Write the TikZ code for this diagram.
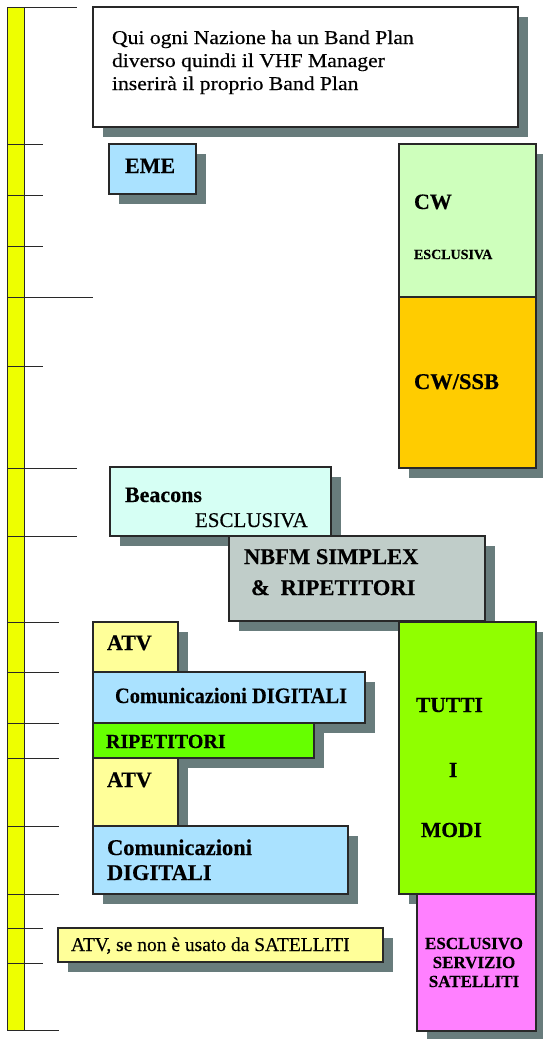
\documentclass[tikz,border=0pt]{standalone}
\usepackage{fontspec}
\setmainfont{Liberation Serif}[FakeBold=0.35]
\usetikzlibrary{shadows}

\definecolor{rulerYellow}{RGB}{238,255,0}
\definecolor{emeBlue}{RGB}{170,226,255}
\definecolor{cwGreen}{RGB}{206,255,188}
\definecolor{ssbOrange}{RGB}{255,204,0}
\definecolor{beaconCyan}{RGB}{214,255,244}
\definecolor{nbfmGray}{RGB}{192,205,201}
\definecolor{atvYellow}{RGB}{255,255,153}
\definecolor{repGreen}{RGB}{102,255,0}
\definecolor{allGreen}{RGB}{144,255,0}
\definecolor{satPink}{RGB}{255,128,255}
\definecolor{shadowGray}{RGB}{104,124,124}
\definecolor{edge}{RGB}{40,40,40}

\tikzset{
  band/.style={draw=edge, line width=1.2pt, inner sep=0pt, outer sep=0pt,
    anchor=north west,
    drop shadow={shadow xshift=10pt, shadow yshift=-10pt, fill=shadowGray, opacity=1}},
  tickline/.style={draw=edge, line width=1pt},
  txt/.style={anchor=base west, inner sep=0pt, outer sep=0pt},
  bold/.style={txt, font=\bfseries\fontsize{#1}{#1}\selectfont},
  plain/.style={txt, font=\fontsize{#1}{#1}\selectfont}
}

% name, left, top, right, bottom, fill
\newcommand\bandbox[6]{%
  \node[band, fill=#6, minimum width={#4-#2}, minimum height={#5-#3}] (#1) at (#2,#3) {};}

\begin{document}
\begin{tikzpicture}[x=1pt, y=-1pt]
\useasboundingbox (0,0) rectangle (543,1039);

% frequency ruler
\node[draw=edge, line width=1pt, fill=rulerYellow, inner sep=0pt, anchor=north west,
      minimum width=17pt, minimum height=1023pt] (ruler) at (7,7) {};
\foreach \yy/\xx in {7/77, 144/43, 195/43, 246/43, 297/93, 366/43, 468/77, 536/77,
                     622/59, 672/59, 723/59, 758/59, 826/59, 894/59, 928/43, 963/43, 1030/59}
  \draw[tickline] (7,\yy) -- (\xx,\yy);

% band segments
\bandbox{note}{93}{7}{518}{127}{white}
\bandbox{eme}{109}{144}{196}{194}{emeBlue}
\bandbox{cw}{399}{144}{536}{297}{cwGreen}
\bandbox{ssb}{399}{297}{536}{468}{ssbOrange}
\bandbox{beacons}{110}{467}{331}{536}{beaconCyan}
\bandbox{nbfm}{229}{536}{485}{621}{nbfmGray}
\bandbox{atvA}{93}{622}{178}{672}{atvYellow}
\bandbox{digA}{93}{672}{365}{723}{emeBlue}
\bandbox{rep}{93}{723}{314}{758}{repGreen}
\bandbox{atvB}{93}{758}{178}{826}{atvYellow}
\bandbox{digB}{93}{826}{348}{894}{emeBlue}
\bandbox{atvsat}{58}{928}{383}{962}{atvYellow}
\bandbox{allmodes}{399}{622}{536}{894}{allGreen}
\bandbox{sat}{417}{894}{536}{1031}{satPink}

% labels
\node[plain=19.5] (noteA) at (112,44) {\scalebox{1.11}[1]{Qui ogni Nazione ha un Band Plan}};
\node[plain=19.5] (noteB) at (112,67) {\scalebox{1.11}[1]{diverso quindi il VHF Manager}};
\node[plain=19.5] (noteC) at (112,90) {\scalebox{1.11}[1]{inserirà il proprio Band Plan}};

\node[bold=22] (emeT) at (125,173) {EME};
\node[bold=22] (cwT) at (414,209) {CW};
\node[bold=14] (cwX) at (414,259) {ESCLUSIVA};
\node[bold=22.5] (ssbT) at (414,389) {CW/SSB};

\node[bold=22] (beaconsT) at (125,502) {Beacons};
\node[plain=21] (beaconsX) at (195,527) {ESCLUSIVA};
\node[bold=22.5] (nbfmA) at (244,564) {NBFM SIMPLEX};
\node[bold=22.5] (nbfmB) at (251,595) {\&\hspace{11pt}RIPETITORI};

\node[bold=22] (atvAT) at (107,650) {ATV};
\node[bold=22] (digAT) at (115,703) {\scalebox{0.93}[1]{Comunicazioni DIGITALI}};
\node[bold=20] (repT) at (106,748) {RIPETITORI};
\node[bold=22] (atvBT) at (107,787) {ATV};
\node[bold=22.5] (digBa) at (107,855) {Comunicazioni};
\node[bold=22.5] (digBb) at (107,880) {DIGITALI};
\node[plain=19.5] (atvsatT) at (71,951) {ATV, se non è usato da SATELLITI};

\node[bold=21.5] (allA) at (416,712) {TUTTI};
\node[bold=21.5] (allB) at (449,777) {I};
\node[bold=21.5] (allC) at (421,837) {MODI};

\node[bold=17, anchor=base] (satA) at (474,949) {ESCLUSIVO};
\node[bold=17, anchor=base] (satB) at (474,968) {SERVIZIO};
\node[bold=17, anchor=base] (satC) at (474,987) {SATELLITI};
\end{tikzpicture}
\end{document}
